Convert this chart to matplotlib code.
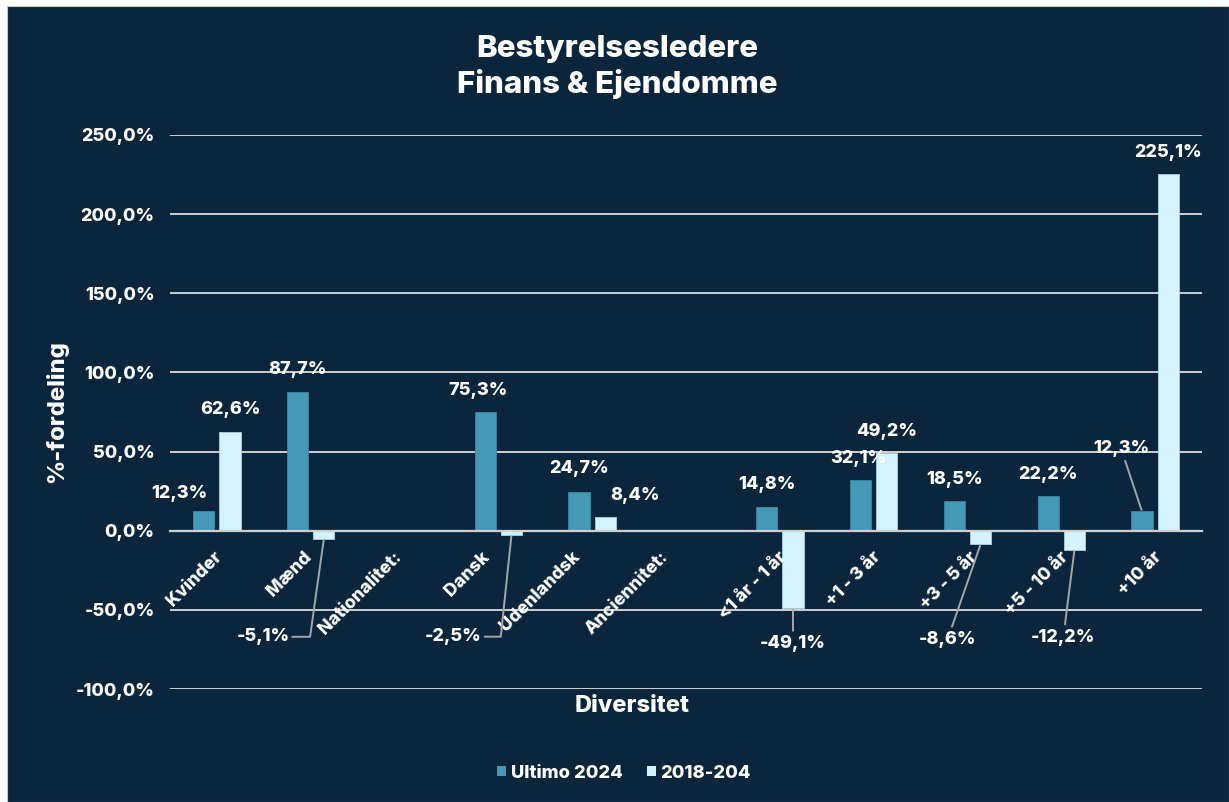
import matplotlib
matplotlib.use("Agg")
import matplotlib.pyplot as plt
from matplotlib.patches import Rectangle, Patch
import numpy as np

# ---------------- data ----------------
categories = ["Kvinder", "Mænd", "Nationalitet:", "Dansk", "Udenlandsk", "Anciennitet:",
              "<1 år - 1 år", "+1 - 3 år", "+3 - 5 år", "+5 - 10 år", "+10 år"]
ultimo_2024 = [12.3, 87.7, np.nan, 75.3, 24.7, np.nan, 14.8, 32.1, 18.5, 22.2, 12.3]
change_2018 = [62.6, -5.1, np.nan, -2.5, 8.4, np.nan, -49.1, 49.2, -8.6, -12.2, 225.1]
series_names = ["Ultimo 2024", "2018-204"]
yticks = [-100, -50, 0, 50, 100, 150, 200, 250]

# ---------------- style ----------------
W, H = 1229, 802
BG = "#0B263C"
C_BLUE = "#4599B6"
C_LIGHT = "#D5F3FF"
GRID = "#D0D0D0"
LEADER = "#A6A6A6"
FW = "heavy"
plt.rcParams["font.family"] = ["Inter", "DejaVu Sans"]
plt.rcParams["font.weight"] = FW

fig = plt.figure(figsize=(W / 100, H / 100), dpi=100, facecolor="white")
fig.patches.append(Rectangle((7 / W, 0), 1 - 7 / W, 1 - 6 / H, transform=fig.transFigure,
                             facecolor=BG, edgecolor="#C8C8C8", lw=0.8, zorder=-10))

ax = fig.add_axes([170 / W, 1 - 689 / H, (1202 - 170) / W, (689 - 135) / H])
ax.set_facecolor("none")

x = np.arange(len(categories))
bw = 0.225
off = 0.14
ax.bar(x - off, ultimo_2024, bw, color=C_BLUE, edgecolor="#3A86A3", lw=0.6, zorder=3)
ax.bar(x + off, change_2018, bw, color=C_LIGHT, edgecolor="#A9D6E6", lw=0.6, zorder=3)

ax.set_xlim(-0.5, len(categories) - 0.5)
ax.set_ylim(-100, 250)
ax.set_yticks(yticks)
ax.set_yticklabels([f"{v:.1f}".replace(".", ",") + "%" for v in yticks])
ax.grid(axis="y", color=GRID, lw=1.4, zorder=0)
ax.set_axisbelow(True)
for s in ["top", "right", "left"]:
    ax.spines[s].set_visible(False)
ax.spines["bottom"].set_position(("data", 0))
ax.spines["bottom"].set_color(GRID)
ax.spines["bottom"].set_linewidth(1.6)
ax.spines["bottom"].set_zorder(4)
ax.tick_params(axis="y", length=0, pad=11, labelsize=13, labelcolor="white")
for t in ax.get_yticklabels():
    t.set_fontweight(FW)
ax.set_xticks([])

# category labels (rotated)
xlabel_dx = [2, -2, -6, -11, -15, -20, 4, 5, 7, 5, 4]
for i, cat in enumerate(categories):
    ax.annotate(cat, xy=(x[i], 0), xytext=(xlabel_dx[i], -24), textcoords="offset pixels",
                rotation=45, ha="right", va="center", rotation_mode="anchor",
                color="white", fontsize=12.8, fontweight=FW, annotation_clip=False)

def fmt(v):
    return f"{v:.1f}".replace(".", ",") + "%"

# data labels: offsets in pixels from bar end; leader style
ult_off = [(-24, 18), (0, 22), None, (-7, 21), (0, 23), None, (0, 23), (-2, 21), (0, 22), (0, 21), (-21, 63)]
chg_off = [(0, 22), (-61, -98), None, (-58, -102), (30, 22), None, (0, -35), (0, 21), (-33, -95), (-11, -87), (0, 22)]
ult_lead = {10: "straight"}
chg_lead = {1: 82, 3: 84, 6: "straight", 8: "straight", 9: "straight"}

def put_labels(values, xpos, offs, leads):
    for i, v in enumerate(values):
        if np.isnan(v) or offs[i] is None:
            continue
        dx, dy = offs[i]
        kw = {}
        if i in leads:
            st = leads[i]
            if st == "straight":
                kw["arrowprops"] = dict(arrowstyle="-", color=LEADER, lw=1.4, shrinkA=1, shrinkB=1)
            else:
                kw["arrowprops"] = dict(arrowstyle="-", color=LEADER, lw=1.4, shrinkA=0, shrinkB=1,
                                        relpos=(1, 0.5),
                                        connectionstyle=f"angle,angleA=0,angleB={st},rad=0")
        ax.annotate(fmt(v), xy=(xpos[i], v), xytext=(dx, dy), textcoords="offset pixels",
                    ha="center", va="center", color="white", fontsize=13, fontweight=FW,
                    annotation_clip=False, zorder=6, **kw)

put_labels(ultimo_2024, x - off, ult_off, ult_lead)
put_labels(change_2018, x + off, chg_off, chg_lead)

# titles
fig.text(617 / W, 1 - 67 / H, "Bestyrelsesledere\nFinans & Ejendomme", ha="center", va="center",
         fontsize=22.5, fontweight=FW, color="white", linespacing=1.25)
fig.text(632 / W, 1 - 706 / H, "Diversitet", ha="center", va="center",
         fontsize=17, fontweight=FW, color="white")
fig.text(57 / W, 1 - 412 / H, "%-fordeling", ha="center", va="center", rotation=90,
         fontsize=17, fontweight=FW, color="white")

handles = [Patch(facecolor=C_BLUE, edgecolor="none"), Patch(facecolor=C_LIGHT, edgecolor="none")]
leg = fig.legend(handles, series_names, loc="center", bbox_to_anchor=(624 / W, 1 - 773 / H), ncol=2,
                 frameon=False, handlelength=0.5, handleheight=0.5, handletextpad=0.25,
                 columnspacing=1.3, prop=dict(weight=FW, size=13.2))
for t in leg.get_texts():
    t.set_color("white")

fig.savefig("out.png", dpi=100, facecolor=fig.get_facecolor())
